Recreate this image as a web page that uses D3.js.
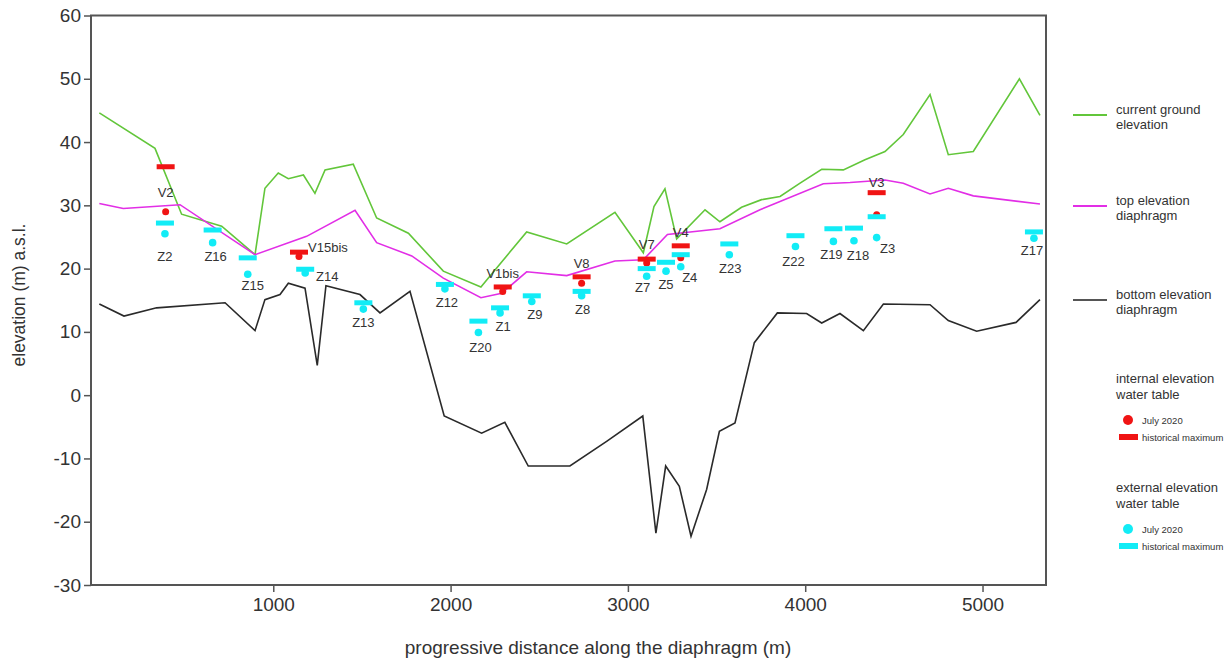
<!DOCTYPE html>
<html>
<head>
<meta charset="utf-8">
<script src="https://cdn.jsdelivr.net/npm/d3@7"></script>
<style>
  body { margin: 0; background: #fff; }
  text { font-family: "Liberation Sans", Arial, sans-serif; fill: #333; }
</style>
</head>
<body>
<svg id="chart" width="1230" height="659"></svg>
<script>
// distance (m), elevation (m a.s.l.)
const groundLine = [[19,44.6],[333,39.0],[483,28.6],[709,26.7],[897,22.2],[953,32.7],[1028,35.1],[1085,34.2],
  [1170,34.8],[1235,31.9],[1292,35.6],[1451,36.5],[1583,28.0],[1762,25.6],[1959,19.6],[2171,17.1],[2429,25.8],
  [2655,23.9],[2927,28.9],[3087,22.5],[3147,29.8],[3209,32.6],[3275,24.7],[3435,29.3],[3519,27.4],[3641,29.7],
  [3754,30.9],[3858,31.4],[3971,33.5],[4093,35.7],[4215,35.6],[4337,37.2],[4450,38.5],[4553,41.2],[4704,47.5],
  [4807,38.0],[4948,38.5],[5208,50.0],[5324,44.2]];

const topLine = [[19,30.3],[154,29.5],[474,30.1],[897,22.2],[1188,25.1],[1461,29.2],[1583,24.1],[1781,22.0],
  [1959,18.5],[2171,15.4],[2288,16.1],[2429,19.5],[2655,18.9],[2927,21.2],[3087,21.4],[3223,25.4],[3519,26.3],
  [3745,29.3],[4102,33.4],[4253,33.6],[4450,34.0],[4553,33.5],[4704,31.8],[4807,32.7],[4948,31.5],[5324,30.2]];

const bottomLine = [[19,14.4],[158,12.5],[342,13.8],[728,14.6],[897,10.2],[953,15.1],[1038,15.9],[1085,17.7],
  [1179,16.9],[1248,4.7],[1297,17.3],[1489,15.9],[1602,13.0],[1771,16.4],[1964,-3.3],[2175,-6.0],[2306,-4.3],
  [2438,-11.2],[2673,-11.2],[2880,-7.3],[3084,-3.3],[3158,-21.8],[3213,-11.2],[3290,-14.4],[3356,-22.3],
  [3444,-14.9],[3516,-5.7],[3604,-4.4],[3713,8.3],[3843,13.0],[4008,12.9],[4093,11.4],[4196,12.9],[4328,10.2],
  [4441,14.4],[4704,14.3],[4807,11.8],[4967,10.1],[5189,11.5],[5324,15.1]];

// internal wells: name, distance, historical max, July 2020
const internalWells = [
  ["V2", 393, 36.1, 29.0], ["V15bis", 1145, 22.6, 21.9], ["V1bis", 2294, 17.1, 16.4],
  ["V8", 2739, 18.7, 17.7], ["V7", 3106, 21.5, 20.9], ["V4", 3298, 23.6, 21.7], ["V3", 4403, 32.0, 28.5]
];
// external wells: name, distance, historical max, July 2020
const externalWells = [
  ["Z2", 389, 27.2, 25.5], ["Z16", 658, 26.1, 24.1], ["Z15", 856, 21.7, 19.1], ["Z14", 1180, 19.9, 19.3],
  ["Z13", 1508, 14.6, 13.6], ["Z12", 1968, 17.5, 16.8], ["Z20", 2157, 11.7, 9.9], ["Z1", 2279, 13.8, 13.0],
  ["Z9", 2458, 15.7, 14.8], ["Z8", 2739, 16.4, 15.7], ["Z7", 3106, 20.0, 18.8], ["Z5", 3215, 21.0, 19.6],
  ["Z4", 3298, 22.2, 20.3], ["Z23", 3572, 23.9, 22.2], ["Z22", 3945, 25.2, 23.5], ["Z19", 4159, 26.3, 24.3],
  ["Z18", 4275, 26.4, 24.4], ["Z3", 4403, 28.2, 24.9], ["Z17", 5290, 25.8, 24.8]
];

const xTicks = [1000, 2000, 3000, 4000, 5000];
const yTicks = [-30, -20, -10, 0, 10, 20, 30, 40, 50, 60];

// label offsets in px from the historical max bar
const labelOffsets = {
  V2: [0, 26], V15bis: [29, -5], V1bis: [0, -13], V8: [0, -13], V7: [0, -15], V4: [0, -13], V3: [0, -10],
  Z2: [0, 33], Z16: [3, 26], Z15: [5, 28], Z14: [22, 7], Z13: [0, 20], Z12: [2, 18], Z20: [2, 26],
  Z1: [3, 19], Z9: [3, 19], Z8: [1, 18], Z7: [-4, 19], Z5: [0, 22], Z4: [9, 23], Z23: [1, 25],
  Z22: [-2, 26], Z19: [-2, 26], Z18: [4, 27], Z3: [11, 32], Z17: [-2, 19]
};

const RED = "#f01414", CYAN = "#12ecf6", GREEN = "#62c63a", MAGENTA = "#e22ee6", BLACK = "#2a2a2a";

const svg = d3.select("#chart");
const plotL = 91, plotR = 1046, plotT = 15.5, plotB = 585;

const x = d3.scaleLinear().domain([-28, 5358]).range([plotL, plotR]);
const y = d3.scaleLinear().domain([-30, 60]).range([plotB, plotT]);

// frame
svg.append("rect")
  .attr("x", plotL).attr("y", plotT)
  .attr("width", plotR - plotL).attr("height", plotB - plotT)
  .attr("fill", "none").attr("stroke", "#555").attr("stroke-width", 2);

const xAxis = svg.append("g")
  .attr("transform", `translate(0,${plotB})`)
  .call(d3.axisBottom(x).tickValues(xTicks).tickSize(7).tickPadding(6).tickFormat(d => String(d)));
const yAxis = svg.append("g")
  .attr("transform", `translate(${plotL},0)`)
  .call(d3.axisLeft(y).tickValues(yTicks).tickSize(7).tickPadding(3).tickFormat(d => String(d)));
[xAxis, yAxis].forEach(g => {
  g.select(".domain").remove();
  g.selectAll("line").attr("stroke", "#555").attr("stroke-width", 1.5);
  g.selectAll("text").attr("font-size", 19).attr("fill", "#333")
    .style("font-family", '"Liberation Sans", Arial, sans-serif');
});

svg.append("text")
  .attr("transform", "translate(19,295) rotate(-90)")
  .attr("text-anchor", "middle").attr("dominant-baseline", "central")
  .attr("font-size", 17.5).text("elevation (m) a.s.l.");
svg.append("text")
  .attr("x", 598).attr("y", 647)
  .attr("text-anchor", "middle").attr("dominant-baseline", "central")
  .attr("font-size", 19).text("progressive distance along the diaphragm (m)");

const line = d3.line().x(d => x(d[0])).y(d => y(d[1]));
[[bottomLine, BLACK], [groundLine, GREEN], [topLine, MAGENTA]].forEach(([data, col]) => {
  svg.append("path").datum(data).attr("d", line)
    .attr("fill", "none").attr("stroke", col).attr("stroke-width", 1.6);
});

function drawWells(wells, col, r) {
  const g = svg.append("g");
  g.selectAll("rect").data(wells).enter().append("rect")
    .attr("x", d => x(d[1]) - 9).attr("y", d => y(d[2]) - 2.5)
    .attr("width", 18).attr("height", 5).attr("fill", col);
  g.selectAll("circle").data(wells).enter().append("circle")
    .attr("cx", d => x(d[1])).attr("cy", d => y(d[3])).attr("r", r).attr("fill", col);
}
drawWells(internalWells, RED, 3.5);
drawWells(externalWells, CYAN, 3.8);

svg.append("g").selectAll("text").data(internalWells.concat(externalWells)).enter().append("text")
  .attr("x", d => x(d[1]) + labelOffsets[d[0]][0])
  .attr("y", d => y(d[2]) + labelOffsets[d[0]][1])
  .attr("text-anchor", "middle").attr("dominant-baseline", "central")
  .attr("font-size", 13).text(d => d[0]);

// legend
const leg = svg.append("g");
const lineItems = [
  [115, GREEN, ["current ground", "elevation"]],
  [206, MAGENTA, ["top elevation", "diaphragm"]],
  [300, "#555", ["bottom elevation", "diaphragm"]]
];
lineItems.forEach(([ly, col, lines]) => {
  leg.append("line").attr("x1", 1073).attr("x2", 1107).attr("y1", ly).attr("y2", ly)
    .attr("stroke", col).attr("stroke-width", 1.8);
  lines.forEach((t, i) => leg.append("text").attr("x", 1116).attr("y", ly - 6 + i * 15)
    .attr("dominant-baseline", "central").attr("font-size", 13).text(t));
});
[[378, RED, "internal elevation"], [487, CYAN, "external elevation"]].forEach(([ly, col, title]) => {
  leg.append("text").attr("x", 1116).attr("y", ly).attr("dominant-baseline", "central")
    .attr("font-size", 13).text(title);
  leg.append("text").attr("x", 1116).attr("y", ly + 16).attr("dominant-baseline", "central")
    .attr("font-size", 13).text("water table");
  leg.append("circle").attr("cx", 1128).attr("cy", ly + 42).attr("r", 5).attr("fill", col);
  leg.append("text").attr("x", 1142).attr("y", ly + 42).attr("dominant-baseline", "central")
    .attr("font-size", 9.5).text("July 2020");
  leg.append("rect").attr("x", 1119).attr("y", ly + 56).attr("width", 19).attr("height", 6).attr("fill", col);
  leg.append("text").attr("x", 1142).attr("y", ly + 59).attr("dominant-baseline", "central")
    .attr("font-size", 9.5).text("historical maximum");
});
</script>
</body>
</html>
